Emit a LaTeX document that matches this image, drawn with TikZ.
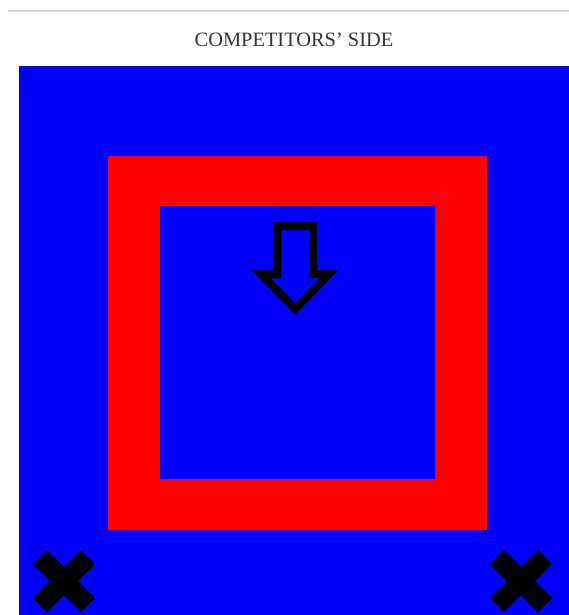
\documentclass[tikz,border=0pt]{standalone}
\usepackage{fontspec}
\setmainfont{Liberation Serif}
\definecolor{fieldblue}{RGB}{0,0,255}
\definecolor{zonered}{RGB}{255,0,0}
\definecolor{rulegray}{RGB}{215,215,215}
\tikzset{
    cross/.style={line width=20pt, black},
    outline/.style={line width=8pt, black, line join=miter}
}
\begin{document}
\begin{tikzpicture}[x=1pt, y=-1pt]
        \useasboundingbox (0,0) rectangle (569,615);
        % 顶部分隔线与标题
        \draw[rulegray, line width=2pt] (8,11) -- (569,11);
        \node[font=\fontsize{20.4}{24}\selectfont, text=black!80] (title) at (294,40) {COMPETITORS’ SIDE};

        % 场地
        \fill[fieldblue] (19,66) rectangle (569,615);
        \fill[zonered] (108,156) rectangle (487,530);
        \fill[fieldblue] (160,206) rectangle (435,479);

        % 方向箭头
        \draw[outline] (277,226) -- (313,226) -- (313,274) -- (329,274)
            -- (295,309) -- (261,274) -- (277,274) -- cycle;

        % 两个叉号
        \foreach \cx in {64,521} {
            \draw[cross] (\cx-24,557) -- (\cx+24,605);
            \draw[cross] (\cx+24,557) -- (\cx-24,605);
        }
    \end{tikzpicture}
\end{document}
